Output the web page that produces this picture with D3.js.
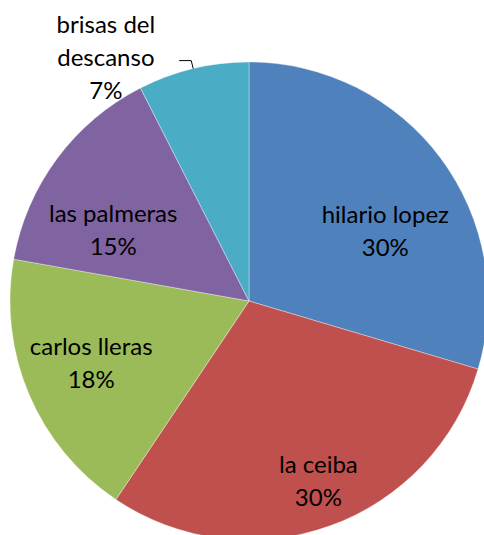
<!DOCTYPE html>
<html>
<head>
<meta charset="utf-8">
<script src="https://cdn.jsdelivr.net/npm/d3@7"></script>
<style>
  body { margin: 0; background: #fff; }
  text { font-family: Lato, "Open Sans", sans-serif; fill: #000; }
</style>
</head>
<body>
<script>
var names = ["hilario lopez", "la ceiba", "carlos lleras", "las palmeras", "brisas del descanso"],
    values = [29.6, 29.8, 18.4, 14.7, 7.5],
    colors = ["#4f81bd", "#c0504d", "#9bbb59", "#8064a2", "#4bacc6"];

// label text lines for each slice (excel wraps the long one)
var labelLines = [["hilario lopez"], ["la ceiba"], ["carlos lleras"], ["las palmeras"], ["brisas del", "descanso"]];

// where excel put each label: angle (deg from top) and radius as fraction of r
var labelAngle = [63, 159, 248.4, 297.4, 329.5],
    labelRadius = [0.64, 0.81, 0.71, 0.64, 1.18];

var w = 484,
    h = 535,
    cx = 249,
    cy = 301,
    r = 239,
    lineH = 33;

var svg = d3.select("body").append("svg")
    .attr("width", w)
    .attr("height", h);

var pie = d3.pie().sort(null).value(function(d) { return d; });
var arcs = pie(values);
var total = d3.sum(values);

var arc = d3.arc().innerRadius(0).outerRadius(r);

var g = svg.append("g")
    .attr("transform", "translate(" + cx + "," + cy + ")");

g.selectAll("path")
    .data(arcs)
    .enter()
    .append("path")
    .attr("d", arc)
    .attr("fill", function(d, i) { return colors[i]; })
    .attr("stroke", "#ffffff")
    .attr("stroke-opacity", 0.5)
    .attr("stroke-width", 0.7);

var labels = g.selectAll("text")
    .data(arcs)
    .enter()
    .append("text")
    .attr("text-anchor", "middle")
    .style("font-size", "24px")
    .attr("transform", function(d, i) {
        var a = labelAngle[i] * Math.PI / 180,
            rr = labelRadius[i] * r;
        return "translate(" + (Math.sin(a) * rr) + "," + (-Math.cos(a) * rr) + ")";
    });

labels.each(function(d, i) {
    var t = d3.select(this);
    var lines = labelLines[i].concat([Math.round(d.data / total * 100) + "%"]);
    var y0 = -(lines.length - 1) * lineH / 2 + 8;
    lines.forEach(function(s, j) {
        t.append("tspan")
            .attr("x", 0)
            .attr("y", y0 + j * lineH)
            .text(s);
    });
});

// leader line from the outside label to its slice
var brisas = arcs[4],
    la = (brisas.startAngle + brisas.endAngle) / 2;
var edge = [Math.sin(la) * r, -Math.cos(la) * r];
g.append("path")
    .attr("d", "M" + (edge[0] - 14) + "," + (edge[1] - 8) + "H" + (edge[0] - 2) + "L" + edge[0] + "," + edge[1])
    .attr("fill", "none")
    .attr("stroke", "#000")
    .attr("stroke-width", 1);
</script>
</body>
</html>
